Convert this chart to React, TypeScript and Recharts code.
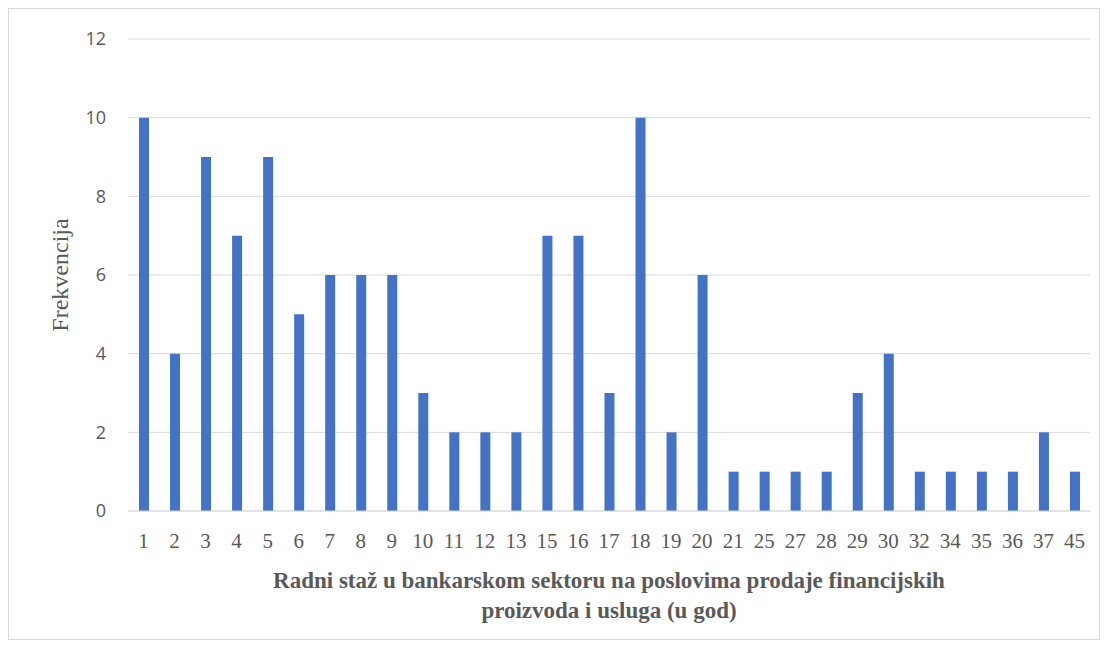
import { BarChart, Bar, XAxis, YAxis, CartesianGrid, Label } from "recharts";

const YEARS = [
  "1", "2", "3", "4", "5", "6", "7", "8", "9", "10", "11", "12", "13", "15", "16", "17",
  "18", "19", "20", "21", "25", "27", "28", "29", "30", "32", "34", "35", "36", "37", "45",
];
const FREQ = [
  10, 4, 9, 7, 9, 5, 6, 6, 6, 3, 2, 2, 2, 7, 7, 3,
  10, 2, 6, 1, 1, 1, 1, 3, 4, 1, 1, 1, 1, 2, 1,
];
const Y_TICKS = [0, 2, 4, 6, 8, 10, 12];

const data = YEARS.map((god, i) => ({ god, freq: FREQ[i] }));

const GRAY = "#595959";
const SERIF = "Liberation Serif, DejaVu Serif, serif";
const SANS = "Open Sans, sans-serif";

function XTitle(props: any) {
  const vb = props.viewBox || {};
  const cx = vb.x + vb.width / 2;
  return (
    <text
      x={cx}
      y={vb.y + 77}
      textAnchor="middle"
      fill={GRAY}
      style={{ fontFamily: SERIF, fontWeight: "bold", fontSize: 23 }}
    >
      <tspan x={cx}>Radni staž u bankarskom sektoru na poslovima prodaje financijskih</tspan>
      <tspan x={cx} dy={30}>proizvoda i usluga (u god)</tspan>
    </text>
  );
}

export default function App() {
  return (
    <div style={{ width: 1090, height: 630, border: "1px solid #d9d9d9", background: "#fff" }}>
      <BarChart
        width={1090}
        height={630}
        data={data}
        margin={{ top: 30, right: 9, bottom: 0, left: 59 }}
      >
        <CartesianGrid vertical={false} stroke="#d9d9d9" />
        <XAxis
          dataKey="god"
          interval={0}
          tickLine={false}
          axisLine={{ stroke: "#d9d9d9" }}
          tickMargin={16}
          height={128}
          tick={{ fill: GRAY, fontSize: 21, style: { fontFamily: SERIF } }}
        >
          <Label content={<XTitle />} />
        </XAxis>
        <YAxis
          domain={[0, 12]}
          ticks={Y_TICKS}
          width={60}
          tickLine={false}
          axisLine={false}
          tickMargin={16}
          tick={{ fill: GRAY, fontSize: 18, style: { fontFamily: SANS } }}
        >
          <Label
            value="Frekvencija"
            angle={-90}
            position="insideLeft"
            dx={-14}
            style={{ textAnchor: "middle", fill: GRAY, fontSize: 24, fontFamily: SERIF }}
          />
        </YAxis>
        <Bar dataKey="freq" fill="#4472c4" barSize={10} isAnimationActive={false} />
      </BarChart>
    </div>
  );
}
